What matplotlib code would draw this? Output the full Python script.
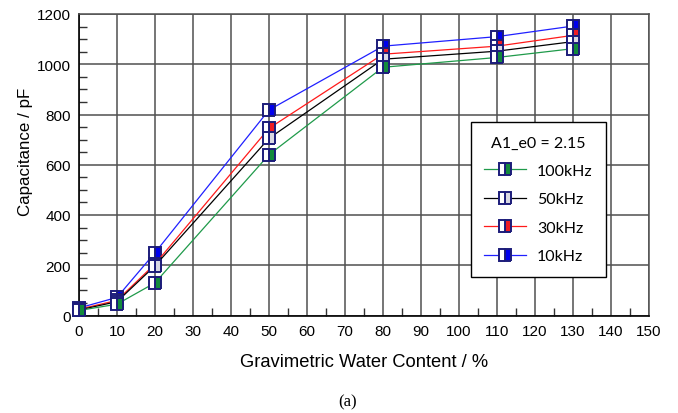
import matplotlib
matplotlib.use("Agg")
import matplotlib.pyplot as plt
from matplotlib.ticker import MultipleLocator

x = [0, 10, 20, 50, 80, 110, 130]
f100 = [20, 45, 130, 640, 988, 1027, 1062]
f50 = [22, 55, 198, 705, 1020, 1052, 1090]
f30 = [25, 60, 205, 745, 1040, 1072, 1115]
f10 = [30, 72, 250, 818, 1072, 1110, 1152]
labels = ["100kHz", "50kHz", "30kHz", "10kHz"]
legend_title = "A1_e0 = 2.15"

fig = plt.figure(figsize=(6.78, 4.14), dpi=100)
ax = fig.add_axes([79/678, 1-316.5/414, (649-79)/678, (316.5-15)/414])

series = [
    (f10, labels[3], '#2020ff', '#0000ee'),
    (f30, labels[2], '#ff1a1a', '#ee1c24'),
    (f50, labels[1], '#000000', '#d9d9e3'),
    (f100, labels[0], '#1f9a4a', '#138a3c'),
]
handles = {}
for ys, lab, lc, fc in series:
    h, = ax.plot(x, ys, color=lc, lw=0.9, marker='s', markersize=8.5,
                 fillstyle='right', markerfacecolor=fc, markerfacecoloralt='white',
                 markeredgecolor='#1c1c7a', markeredgewidth=1.4, label=lab, zorder=3,
                 clip_on=False)
    handles[lab] = h

ax.set_xlim(0, 150)
ax.set_ylim(0, 1200)
ax.xaxis.set_major_locator(MultipleLocator(10))
ax.xaxis.set_minor_locator(MultipleLocator(5))
ax.yaxis.set_major_locator(MultipleLocator(200))
ax.yaxis.set_minor_locator(MultipleLocator(50))
ax.grid(True, which='major', color='#505050', lw=1.1, zorder=0)
ax.tick_params(which='both', direction='in', top=False, right=False)
ax.tick_params(which='major', length=0, labelsize=11, pad=6)
ax.tick_params(which='minor', length=6, width=1.0, color='#333333')
for lab in ax.get_xticklabels() + ax.get_yticklabels():
    lab.set_family('Liberation Sans')
for s in ['left', 'bottom']:
    ax.spines[s].set_color('black')
    ax.spines[s].set_linewidth(1.2)
for s in ['top', 'right']:
    ax.spines[s].set_color('#505050')
    ax.spines[s].set_linewidth(1.1)

ax.set_xlabel("Gravimetric Water Content / %", fontsize=13.2, family='Liberation Sans', labelpad=11)
ax.set_ylabel("Capacitance / pF", fontsize=12.2, family='Liberation Sans')
ax.yaxis.set_label_coords(-0.081, 0.546)

leg = fig.legend([handles[l] for l in labels], labels, title=legend_title,
                 loc='upper right', bbox_to_anchor=(606/678, 1-123/414),
                 prop={'family': 'Lato', 'size': 11.5}, title_fontproperties={'family': 'Lato', 'size': 11.5},
                 frameon=True, fancybox=False, framealpha=1, edgecolor='black',
                 handlelength=2.6, labelspacing=0.9, borderpad=0.85, handletextpad=0.7,
                 borderaxespad=0)
leg.get_frame().set_linewidth(1.0)
leg._legend_box.sep = 10

fig.text(348/678, 1-402/414, "(a)", ha='center', va='center', fontsize=12, family='Liberation Serif')

fig.savefig("out.png", dpi=100)
